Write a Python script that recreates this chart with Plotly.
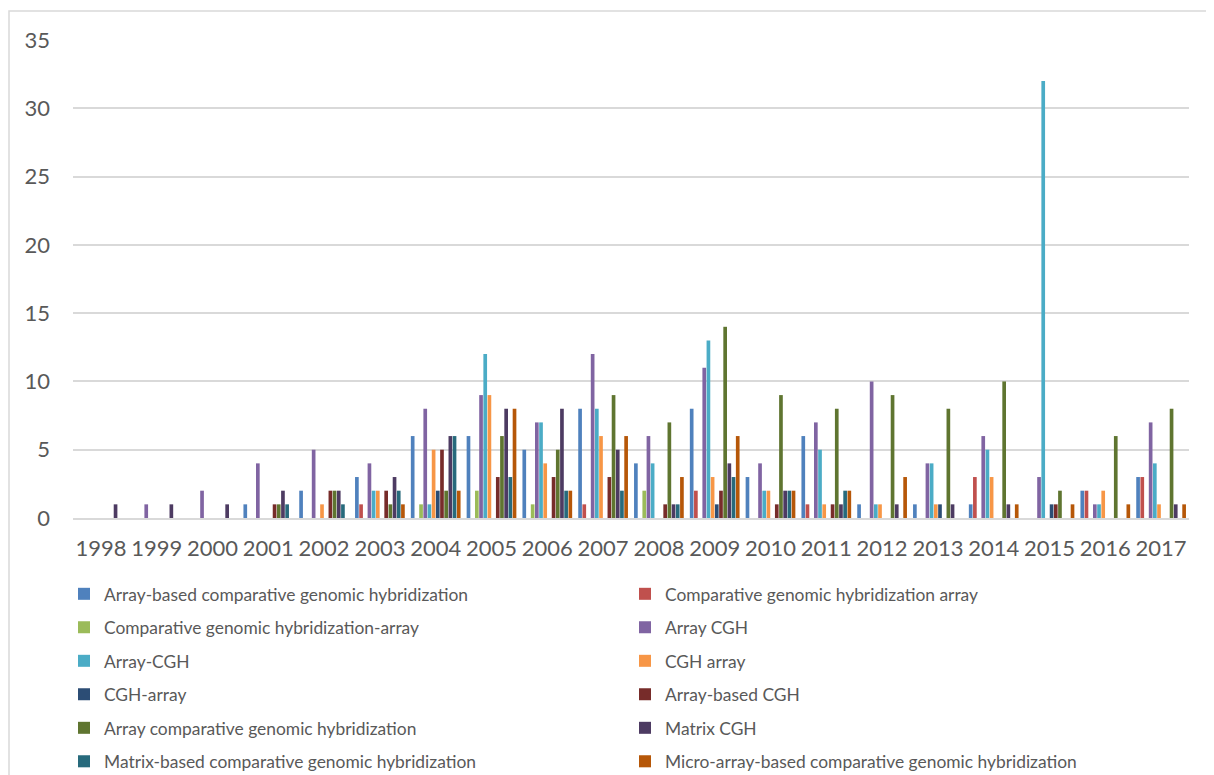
import plotly.graph_objects as go

years = [str(y) for y in range(1998, 2018)]

series_names = [
    "Array-based comparative genomic hybridization",
    "Comparative genomic hybridization array",
    "Comparative genomic hybridization-array",
    "Array CGH",
    "Array-CGH",
    "CGH array",
    "CGH-array",
    "Array-based CGH",
    "Array comparative genomic hybridization",
    "Matrix CGH",
    "Matrix-based comparative genomic hybridization",
    "Micro-array-based comparative genomic hybridization",
]

array_based_cgh_full = [0, 0, 0, 1, 2, 3, 6, 6, 5, 8, 4, 8, 3, 6, 1, 1, 1, 0, 2, 3]
cgh_array_full = [0, 0, 0, 0, 0, 1, 0, 0, 0, 1, 0, 2, 0, 1, 0, 0, 3, 0, 2, 3]
cgh_dash_array_full = [0, 0, 0, 0, 0, 0, 1, 2, 1, 0, 2, 0, 0, 0, 0, 0, 0, 0, 0, 0]
array_cgh = [0, 1, 2, 4, 5, 4, 8, 9, 7, 12, 6, 11, 4, 7, 10, 4, 6, 3, 1, 7]
array_dash_cgh = [0, 0, 0, 0, 0, 2, 1, 12, 7, 8, 4, 13, 2, 5, 1, 4, 5, 32, 1, 4]
cgh_array = [0, 0, 0, 0, 1, 2, 5, 9, 4, 6, 0, 3, 2, 1, 1, 1, 3, 0, 2, 1]
cgh_dash_array = [0, 0, 0, 0, 0, 0, 2, 0, 0, 0, 0, 1, 0, 0, 0, 1, 0, 1, 0, 0]
array_based_cgh = [0, 0, 0, 1, 2, 2, 5, 3, 3, 3, 1, 2, 1, 1, 0, 0, 0, 1, 0, 0]
array_cgh_full = [0, 0, 0, 1, 2, 1, 2, 6, 5, 9, 7, 14, 9, 8, 9, 8, 10, 2, 6, 8]
matrix_cgh = [1, 1, 1, 2, 2, 3, 6, 8, 8, 5, 1, 4, 2, 1, 1, 1, 1, 0, 0, 1]
matrix_based_cgh_full = [0, 0, 0, 1, 1, 2, 6, 3, 2, 2, 1, 3, 2, 2, 0, 0, 0, 0, 0, 0]
micro_array_based_cgh_full = [0, 0, 0, 0, 0, 1, 2, 8, 2, 6, 3, 6, 2, 2, 3, 0, 1, 1, 1, 1]

series_values = [
    array_based_cgh_full, cgh_array_full, cgh_dash_array_full, array_cgh,
    array_dash_cgh, cgh_array, cgh_dash_array, array_based_cgh,
    array_cgh_full, matrix_cgh, matrix_based_cgh_full, micro_array_based_cgh_full,
]

colors = [
    "#4F81BD", "#C0504D", "#9BBB59", "#8064A2", "#4BACC6", "#F79646",
    "#2C4D75", "#772C2A", "#5F7530", "#4D3B62", "#276A7C", "#B65708",
]

FONT = "Lato, 'Open Sans', sans-serif"
TXT = "#595959"

# The page body adds an 8px offset; figure is sized/positioned to compensate.
OFF = 8
W, H = 1214 - OFF, 775 - OFF
L = 73 - OFF
T = 40 - OFF
R = W - (1189 - OFF)
B = H - (518 - OFF)
pw = W - L - R
ph = H - T - B

fig = go.Figure()
legend_layouts = {}
for i, (name, vals, col) in enumerate(zip(series_names, series_values, colors)):
    key = "legend" if i == 0 else f"legend{i + 1}"
    fig.add_trace(go.Bar(
        x=years, y=vals, name=name, marker_color=col,
        marker_line_width=0, legend=key,
    ))
    row, colidx = divmod(i, 2)
    text_x_screen = 105 if colidx == 0 else 666
    y_screen = 594 + row * 33.5
    legend_layouts[key] = dict(
        x=(text_x_screen - 41 - OFF) / W,
        y=1 - (y_screen - OFF) / H,
        xanchor="left", yanchor="middle",
        xref="container", yref="container",
        orientation="h",
        bgcolor="rgba(0,0,0,0)",
        font=dict(family=FONT, size=17.4, color=TXT),
        itemclick=False, itemdoubleclick=False,
    )

fig.update_layout(
    width=W, height=H,
    margin=dict(l=L, r=R, t=T, b=B, pad=0, autoexpand=False),
    paper_bgcolor="white", plot_bgcolor="white",
    barmode="group", bargap=0.1, bargroupgap=0.12,
    showlegend=True,
    font=dict(family=FONT, size=22, color=TXT),
    **legend_layouts,
)

fig.update_yaxes(
    range=[0, 35], dtick=5, tick0=0,
    showgrid=True, gridcolor="#D9D9D9", gridwidth=1.5,
    zeroline=False, showline=False, ticks="",
    ticklabelstandoff=22,
    tickfont=dict(family=FONT, size=22, color=TXT),
)
fig.update_xaxes(
    type="category", range=[-0.5, 19.5],
    showline=True, linecolor="#D9D9D9", linewidth=2,
    ticks="", showgrid=False,
    ticklabelstandoff=10,
    tickfont=dict(family=FONT, size=22, color=TXT),
)

# chart border (outer frame; right and bottom edges fall outside the view)
fig.add_shape(
    type="rect", xref="paper", yref="paper",
    x0=(9 - OFF - L) / pw, x1=(1260 - OFF - L) / pw,
    y0=(T + ph - 800) / ph, y1=(T + ph - (11 - OFF)) / ph,
    line=dict(color="#D9D9D9", width=1.5), fillcolor="rgba(0,0,0,0)",
    layer="below",
)

fig.write_html("out.html")
